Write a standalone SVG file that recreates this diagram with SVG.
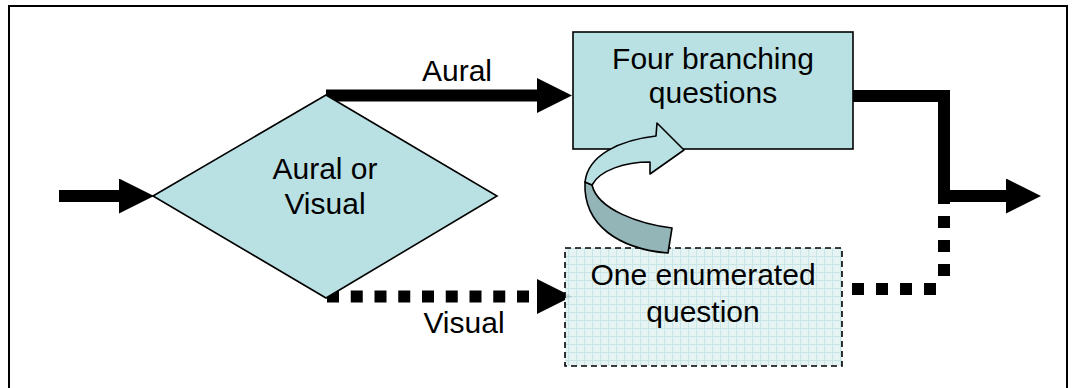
<svg xmlns="http://www.w3.org/2000/svg" width="1072" height="388" viewBox="0 0 1072 388">
<style>
.lbl{font-family:"Liberation Sans",Arial,sans-serif;font-size:30px;fill:#000;text-anchor:middle}
.shape{fill:#B9E0E3;stroke:#000;stroke-width:1.6}
.solid{fill:none;stroke:#000;stroke-width:12}
.dot{fill:none;stroke:#000;stroke-width:12;stroke-dasharray:12 11.75}
</style>
<defs>
<marker id="ah" viewBox="0 0 35 35" refX="0" refY="17.5" markerWidth="35" markerHeight="35" markerUnits="userSpaceOnUse" orient="auto">
<path d="M0,0 L35,17.5 L0,35 Z" fill="#000"/>
</marker>
<pattern id="grid" width="8" height="8" patternUnits="userSpaceOnUse">
<rect width="8" height="8" fill="#E3F2F2"/>
<path d="M0,0.5 H8 M0.5,0 V8" stroke="#C2E1E3" stroke-width="1"/>
</pattern>
</defs>
<rect x="0" y="0" width="1072" height="388" fill="#fff"/>
<rect id="frame" x="9" y="6" width="1058" height="420" fill="none" stroke="#000" stroke-width="2"/>
<g id="connectors">
<path class="solid" d="M59,196 H119" marker-end="url(#ah)"/>
<path class="solid" d="M326,95.5 H537" marker-end="url(#ah)"/>
<path class="dot" d="M327,296.5 H537"/>
<path d="M537,279 L572,296.5 L537,314 Z" fill="#000"/>
<path class="solid" d="M853,96 H944 V203" stroke-linejoin="miter"/>
<path class="solid" d="M944,196 H1006" marker-end="url(#ah)"/>
<path fill="none" stroke="#000" stroke-width="12" stroke-dasharray="12 12" d="M852,289 H944"/>
<path fill="none" stroke="#000" stroke-width="12" stroke-dasharray="12 12" d="M944,276 V203"/>
</g>
<g id="decision">
<polygon class="shape" points="153,196 326,95 497,196 326,298"/>
<text class="lbl" x="325" y="179">Aural or</text>
<text class="lbl" x="325" y="214">Visual</text>
</g>
<g id="label-aural"><text class="lbl" x="457" y="81">Aural</text></g>
<g id="label-visual"><text class="lbl" x="464" y="333">Visual</text></g>
<g id="four-branching">
<rect class="shape" x="573" y="32" width="280" height="117"/>
<text class="lbl" x="713" y="69">Four branching</text>
<text class="lbl" x="713" y="103">questions</text>
</g>
<g id="one-enumerated">
<rect x="565" y="248" width="277" height="118" fill="url(#grid)" fill-opacity="0.9" stroke="#000" stroke-width="1.6" stroke-dasharray="6 4"/>
<text class="lbl" x="703" y="285">One enumerated</text>
<text class="lbl" x="703" y="322">question</text>
</g>
<g id="curved-arrow">
<path d="M668,253 C620,249 583,226 585,182 L592,185 C598,210 640,224 672,228 Z" fill="#93B5B8" stroke="#000" stroke-width="1.6" stroke-linejoin="round"/>
<path d="M585,182 C588,155 620,140 656,136 L657,123 L684,150 L650,174 L650,162 C625,162 600,170 592,185 Z" fill="#B9E0E3" stroke="#000" stroke-width="1.6" stroke-linejoin="round"/>
</g>
</svg>
